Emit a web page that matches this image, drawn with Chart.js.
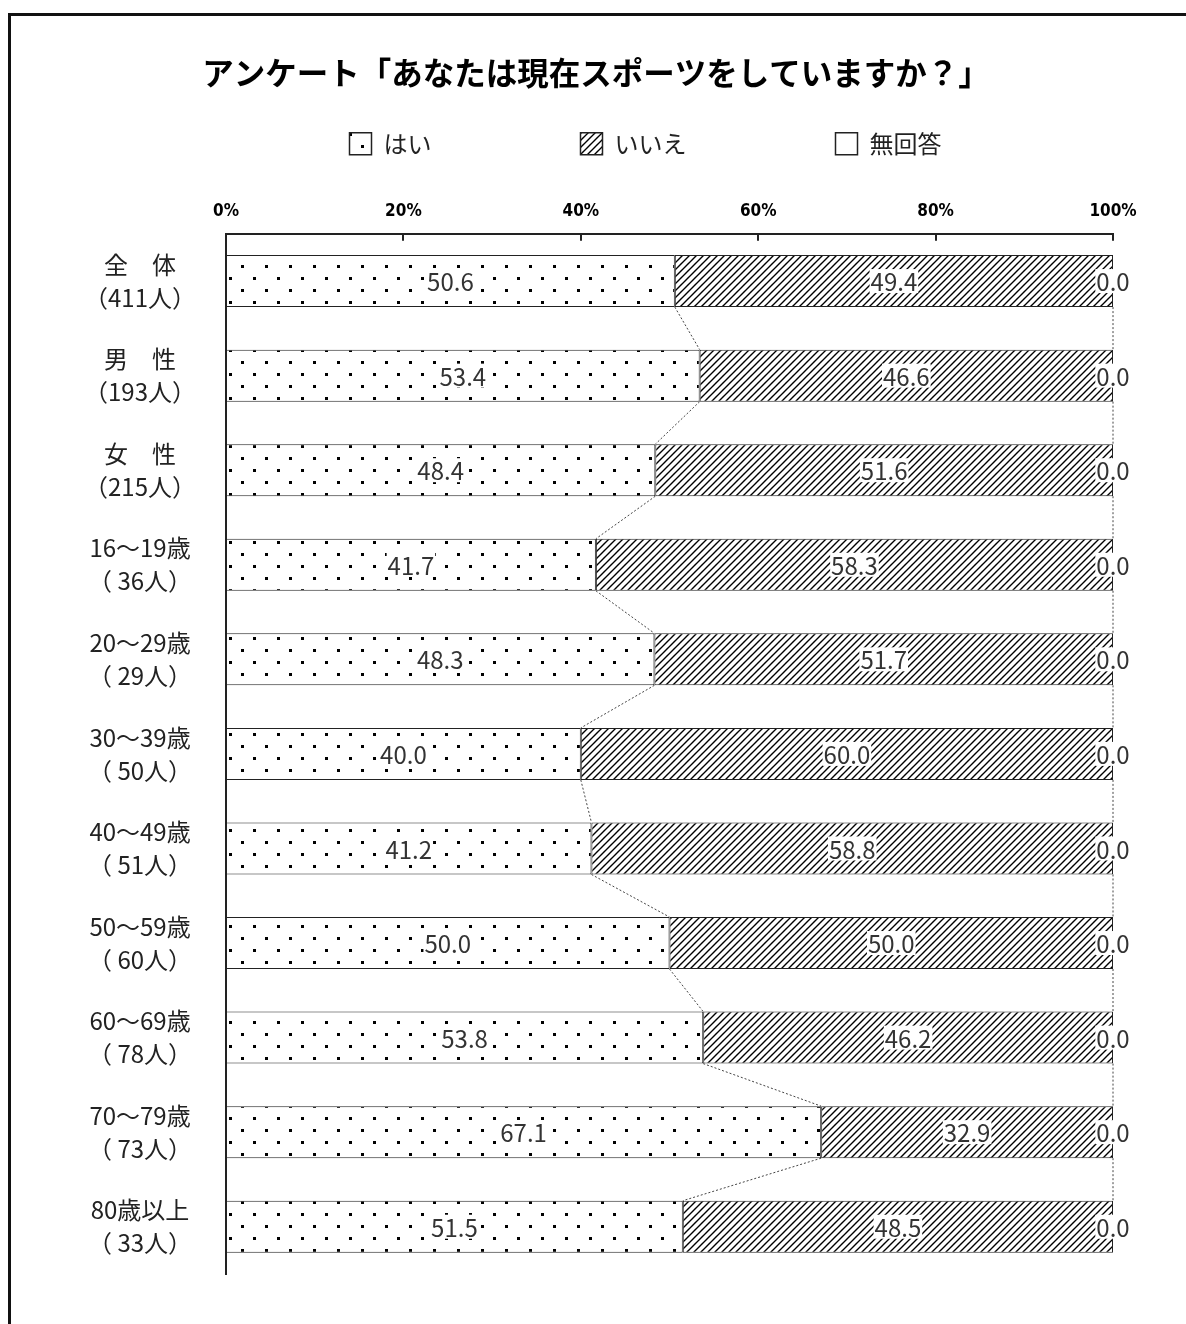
<!DOCTYPE html>
<html lang="ja">
<head>
<meta charset="UTF-8">
<title>アンケート「あなたは現在スポーツをしていますか？」</title>
<script src="https://cdn.jsdelivr.net/npm/chart.js@4.4.1/dist/chart.umd.min.js"></script>
<style>
    html, body { margin: 0; padding: 0; background: #fff; }
    #wrap { width: 1186px; height: 1324px; }
</style>
</head>
<body>
<div id="wrap"><canvas id="sports-chart" width="1186" height="1324"></canvas></div>
<script>
// 数据
const categories = [
    ['全　体', '（411人）'],
    ['男　性', '（193人）'],
    ['女　性', '（215人）'],
    ['16～19歳', '（ 36人）'],
    ['20～29歳', '（ 29人）'],
    ['30～39歳', '（ 50人）'],
    ['40～49歳', '（ 51人）'],
    ['50～59歳', '（ 60人）'],
    ['60～69歳', '（ 78人）'],
    ['70～79歳', '（ 73人）'],
    ['80歳以上', '（ 33人）']
];
const yesValues = [50.6, 53.4, 48.4, 41.7, 48.3, 40.0, 41.2, 50.0, 53.8, 67.1, 51.5];
const noValues = [49.4, 46.6, 51.6, 58.3, 51.7, 60.0, 58.8, 50.0, 46.2, 32.9, 48.5];
const noAnswerValues = [0.0, 0.0, 0.0, 0.0, 0.0, 0.0, 0.0, 0.0, 0.0, 0.0, 0.0];
const seriesNames = ['はい', 'いいえ', '無回答'];
const xTickValues = [0, 20, 40, 60, 80, 100];
const chartTitle = 'アンケート「あなたは現在スポーツをしていますか？」';

const JP_FONT = "'Noto Sans CJK JP', 'Noto Sans', sans-serif";
const canvas = document.getElementById('sports-chart');
const ctx = canvas.getContext('2d');

// 点状填充
function makeDotPattern() {
    const tile = document.createElement('canvas');
    tile.width = 24;
    tile.height = 24;
    const g = tile.getContext('2d');
    g.fillStyle = '#fff';
    g.fillRect(0, 0, 24, 24);
    g.fillStyle = '#000';
    g.fillRect(1, 1, 3, 3);
    g.fillRect(13, 13, 3, 3);
    return ctx.createPattern(tile, 'repeat');
}

// 斜线填充
function makeHatchPattern() {
    const s = 7;
    const tile = document.createElement('canvas');
    tile.width = s;
    tile.height = s;
    const g = tile.getContext('2d');
    g.fillStyle = '#fff';
    g.fillRect(0, 0, s, s);
    g.strokeStyle = '#000';
    g.lineWidth = 1.4;
    g.beginPath();
    g.moveTo(-1, s + 1); g.lineTo(s + 1, -1);
    g.moveTo(-1, 1); g.lineTo(1, -1);
    g.moveTo(s - 1, s + 1); g.lineTo(s + 1, s - 1);
    g.stroke();
    return ctx.createPattern(tile, 'repeat');
}

// 外框
const framePlugin = {
    id: 'frame',
    beforeDraw(chart) {
        const c = chart.ctx;
        c.save();
        c.fillStyle = '#fff';
        c.fillRect(0, 0, chart.width, chart.height);
        c.strokeStyle = '#111';
        c.lineWidth = 3;
        c.beginPath();
        c.moveTo(9.5, chart.height);
        c.lineTo(9.5, 14.5);
        c.lineTo(chart.width, 14.5);
        c.stroke();
        c.restore();
    }
};

// 刻度线、连接虚线、数值标签
const overlayPlugin = {
    id: 'overlay',
    afterDatasetsDraw(chart) {
        const c = chart.ctx;
        const area = chart.chartArea;
        const xScale = chart.scales.x;
        c.save();

        // 向下的刻度线
        c.strokeStyle = '#222';
        c.lineWidth = 2;
        c.beginPath();
        xScale.ticks.forEach(t => {
            const x = Math.round(xScale.getPixelForValue(t.value));
            c.moveTo(x, area.top);
            c.lineTo(x, area.top + 7);
        });
        c.stroke();

        // 连接虚线
        c.strokeStyle = '#444';
        c.lineWidth = 1;
        c.setLineDash([2, 2]);
        [0, 1].forEach(d => {
            const bars = chart.getDatasetMeta(d).data;
            c.beginPath();
            for (let i = 0; i < bars.length - 1; i++) {
                const a = bars[i], b = bars[i + 1];
                c.moveTo(a.x, a.y + a.height / 2);
                c.lineTo(b.x, b.y - b.height / 2);
            }
            c.stroke();
        });
        c.setLineDash([]);

        // 数值标签
        c.font = '24px ' + JP_FONT;
        c.textAlign = 'center';
        c.textBaseline = 'middle';
        chart.data.datasets.forEach((ds, d) => {
            chart.getDatasetMeta(d).data.forEach((bar, i) => {
                const text = ds.data[i].toFixed(1);
                const cx = (bar.x + bar.base) / 2;
                const w = c.measureText(text).width;
                c.fillStyle = '#fff';
                c.fillRect(cx - w / 2 - 1, bar.y - 12, w + 2, 24);
                c.fillStyle = '#333';
                c.fillText(text, cx, bar.y + 1);
            });
        });
        c.restore();
    }
};

const dotPattern = makeDotPattern();
const hatchPattern = makeHatchPattern();
const legendSpacer = ['　　　　　', '　　　　　', '　　'];

const chart = new Chart(ctx, {
    type: 'bar',
    data: {
        labels: categories,
        datasets: [
            {
                label: seriesNames[0],
                data: yesValues,
                backgroundColor: dotPattern,
                borderColor: '#222',
                borderWidth: 1,
                borderSkipped: false
            },
            {
                label: seriesNames[1],
                data: noValues,
                backgroundColor: hatchPattern,
                borderColor: '#222',
                borderWidth: 1,
                borderSkipped: false
            },
            {
                label: seriesNames[2],
                data: noAnswerValues,
                backgroundColor: '#fff',
                borderColor: '#222',
                borderWidth: 1,
                borderSkipped: false
            }
        ]
    },
    options: {
        indexAxis: 'y',
        responsive: false,
        animation: false,
        layout: {
            padding: { top: 14, left: 20, right: 14, bottom: 50 }
        },
        datasets: {
            bar: { barPercentage: 0.55, categoryPercentage: 1 }
        },
        plugins: {
            title: {
                display: true,
                text: chartTitle,
                color: '#000',
                font: { family: JP_FONT, size: 31.5, weight: 'bold' },
                padding: { top: 40, bottom: 11 }
            },
            legend: {
                position: 'top',
                fullSize: false,
                labels: {
                    boxWidth: 22,
                    boxHeight: 22,
                    padding: 29,
                    color: '#222',
                    font: { family: JP_FONT, size: 24 },
                    generateLabels(chart) {
                        const items = Chart.defaults.plugins.legend.labels.generateLabels(chart);
                        items.forEach((it, i) => { it.text = it.text + legendSpacer[i]; it.lineWidth = 1.5; });
                        return items;
                    }
                }
            },
            tooltip: { enabled: false }
        },
        scales: {
            x: {
                type: 'linear',
                position: 'top',
                stacked: true,
                min: 0,
                max: 100,
                afterBuildTicks(scale) {
                    scale.ticks = xTickValues.map(v => ({ value: v }));
                },
                ticks: {
                    color: '#000',
                    padding: 12,
                    font: { family: "'Liberation Sans Narrow', 'DejaVu Sans Condensed', 'Noto Sans'", size: 17, weight: 'bold' },
                    callback: v => v + '%'
                },
                grid: { display: false, drawTicks: false },
                border: { display: true, color: '#222', width: 2 },
                afterFit(scale) { scale.height = 68; }
            },
            y: {
                stacked: true,
                position: 'left',
                ticks: {
                    crossAlign: 'center',
                    padding: 0,
                    color: '#222',
                    font: { family: JP_FONT, size: 24, lineHeight: 1.375 }
                },
                // 不画刻度线，只用 tickLength 留出标签右侧空白
                grid: { display: false, drawTicks: true, tickLength: 30 },
                border: { display: true, color: '#222', width: 2 },
                afterFit(scale) { scale.width = 206; }
            },
            y2: {
                type: 'category',
                position: 'right',
                ticks: { display: false },
                grid: { display: false, drawTicks: false },
                border: { display: false },
                afterFit(scale) { scale.width = 59; }
            }
        }
    },
    plugins: [framePlugin, overlayPlugin]
});
</script>
</body>
</html>
